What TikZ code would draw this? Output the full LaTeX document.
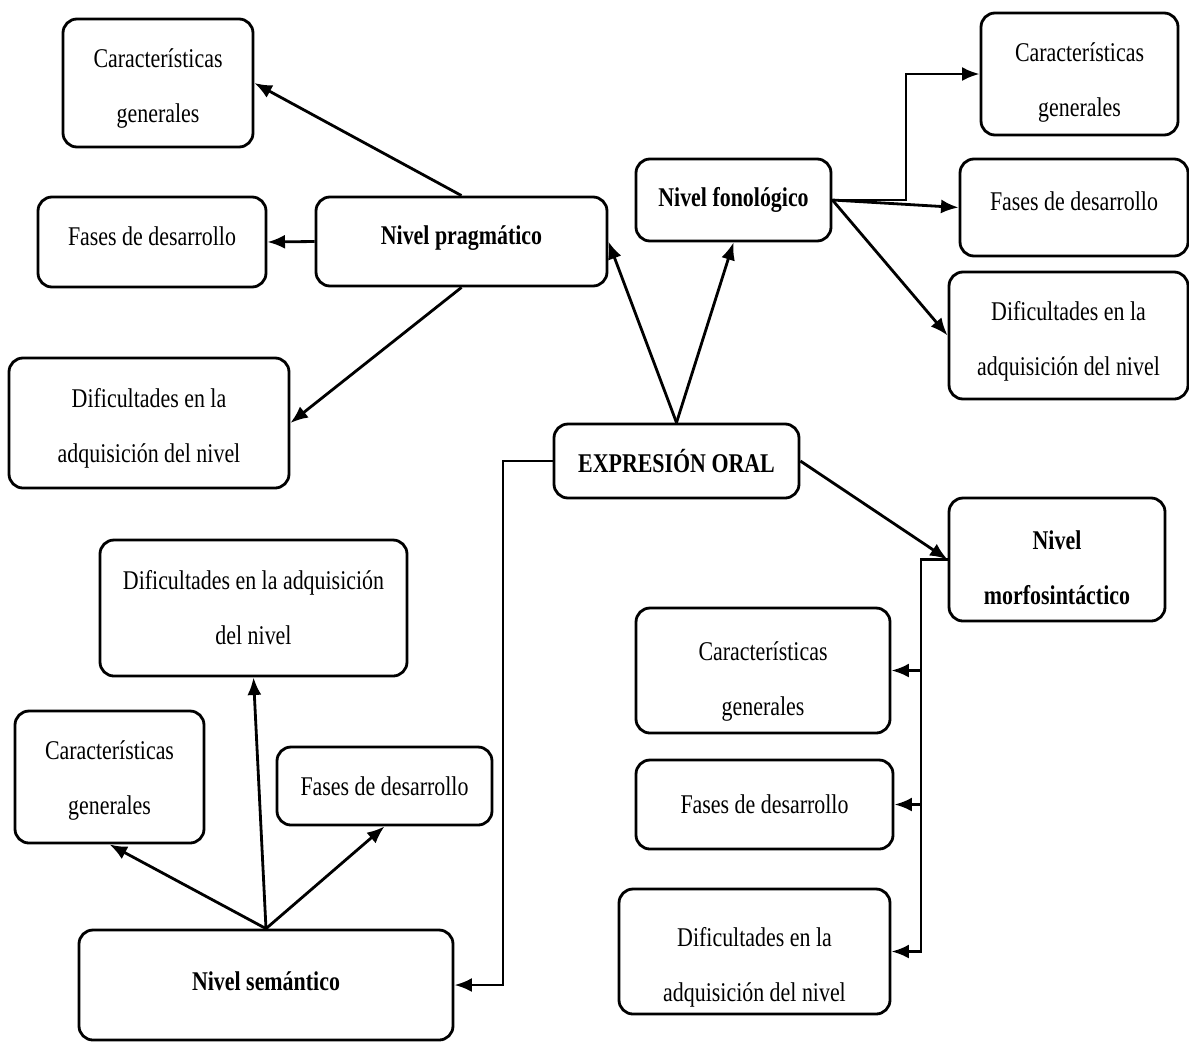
\documentclass[tikz,border=0pt]{standalone}
\usepackage{fontspec}
\setmainfont{Liberation Serif}[FakeStretch=0.81]
\usetikzlibrary{arrows.meta,calc}
\begin{document}
\begin{tikzpicture}[x=0.02cm,y=-0.02cm,
  box/.style={draw, line width=1.6pt, rounded corners=0.28cm, inner sep=0pt},
  txt/.style={align=center, inner sep=0pt, font=\fontsize{15.4}{31.3}\selectfont},
  btxt/.style={txt, font=\fontsize{15.4}{31.3}\selectfont\bfseries},
  sz/.style 2 args={minimum width=#1*0.02cm, minimum height=#2*0.02cm},
  arr/.style={line width=1.6pt, -{Latex[length=10pt,width=8pt]}},
  ]
\useasboundingbox (0,0) rectangle (1189,1042);
% boxes
\node[box, sz={190}{128}] (cg1) at (158,83) {};
\node[box, sz={228}{90}] (fd1) at (152,242) {};
\node[box, sz={291}{89}] (np) at (461.5,241.5) {};
\node[box, sz={280}{130}] (dif1) at (149,423) {};
\node[box, sz={195}{82}] (nf) at (733.5,200) {};
\node[box, sz={197}{122}] (cg2) at (1079.5,74) {};
\node[box, sz={228}{97}] (fd2) at (1074,207.5) {};
\node[box, sz={239}{127}] (dif2) at (1068.5,335.5) {};
\node[box, sz={245}{74}] (eo) at (676.5,461) {};
\node[box, sz={216}{123}] (nm) at (1057,559.5) {};
\node[box, sz={254}{125}] (cg3) at (763,670.5) {};
\node[box, sz={257}{89}] (fd3) at (764.5,804.5) {};
\node[box, sz={271}{125}] (dif3) at (754.5,951.5) {};
\node[box, sz={307}{136}] (dif4) at (253.5,608) {};
\node[box, sz={189}{132}] (cg4) at (109.5,777) {};
\node[box, sz={215}{78}] (fd4) at (384.5,786) {};
\node[box, sz={374}{110}] (ns) at (266,985) {};
% texts
\node[txt] (cg1t) at ($(cg1)+(0,6)$) {Características\\generales};
\node[txt] (fd1t) at ($(fd1)+(0,-6)$) {Fases de desarrollo};
\node[btxt] (npt) at ($(np)+(0,-3)$) {Nivel pragmático};
\node[txt] (dif1t) at ($(dif1)+(0,5)$) {Dificultades en la\\adquisición del nivel};
\node[btxt] (nft) at (nf) {Nivel fonológico};
\node[txt] (cg2t) at ($(cg2)+(0,9)$) {Características\\generales};
\node[txt] (fd2t) at ($(fd2)+(0,-6)$) {Fases de desarrollo};
\node[txt] (dif2t) at ($(dif2)+(0,6)$) {Dificultades en la\\adquisición del nivel};
\node[btxt] (eot) at (eo) {EXPRESIÓN ORAL};
\node[btxt] (nmt) at ($(nm)+(0,8)$) {Nivel\\morfosintáctico};
\node[txt] (cg3t) at ($(cg3)+(0,11)$) {Características\\generales};
\node[txt] (fd3t) at (fd3) {Fases de desarrollo};
\node[txt] (dif3t) at ($(dif3)+(0,16)$) {Dificultades en la\\adquisición del nivel};
\node[txt] (dif4t) at (dif4) {Dificultades en la adquisición\\del nivel};
\node[txt] (cg4t) at ($(cg4)+(0,3)$) {Características\\generales};
\node[txt] (fd4t) at (fd4) {Fases de desarrollo};
\node[btxt] (nst) at ($(ns)+(0,-4)$) {Nivel semántico};

\coordinate (jf) at (906,0);
\coordinate (bus) at (921,0);
\coordinate (je) at (503,0);

% connectors
\draw[arr] (np.north) -- (cg1.east);
\draw[arr] (np.west) -- (fd1.east);
\draw[arr] (np.south) -- (dif1.east);
\draw[arr] (eo.north) -- (np.east);
\draw[arr] (eo.north) -- (nf.south);
\draw[arr] (nf.east) -- (nf.east -| jf) |- (cg2.west);
\draw[arr] (nf.east) -- (fd2.west);
\draw[arr] (nf.east) -- (dif2.west);
\draw[arr] (eo.east) -- (nm.west);
\draw[arr] (nm.west) -- (nm.west -| bus) |- (dif3.east);
\draw[arr] (bus |- cg3.east) -- (cg3.east);
\draw[arr] (bus |- fd3.east) -- (fd3.east);
\draw[arr] (eo.west) -- (eo.west -| je) |- (ns.east);
\draw[arr] (ns.north) -- (dif4.south);
\draw[arr] (ns.north) -- (cg4.south);
\draw[arr] (ns.north) -- (fd4.south);
\end{tikzpicture}
\end{document}
